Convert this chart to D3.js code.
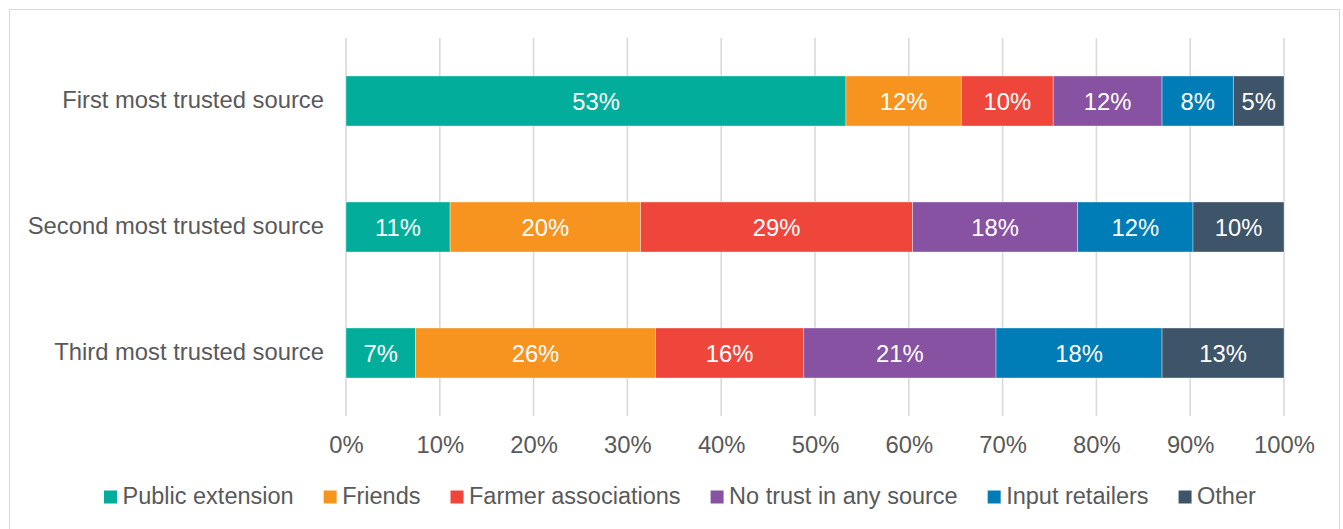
<!DOCTYPE html>
<html>
<head>
<meta charset="utf-8">
<script src="https://cdn.jsdelivr.net/npm/d3@7"></script>
<style>
  html, body { margin: 0; padding: 0; background: #fff; }
  svg { display: block; font-family: "Liberation Sans", Arial, sans-serif; }
</style>
</head>
<body>
<svg id="chart" width="1343" height="529"></svg>
<script>
// Most trusted information sources, share of respondents (%)
const categories = ["First most trusted source", "Second most trusted source", "Third most trusted source"];
const seriesNames = ["Public extension", "Friends", "Farmer associations", "No trust in any source", "Input retailers", "Other"];
const publicExtension = [53.3, 11.1, 7.4];
const friends        = [12.3, 20.3, 25.6];
const farmerAssoc    = [9.8, 29.0, 15.8];
const noTrust        = [11.6, 17.6, 20.5];
const inputRetailers = [7.6, 12.3, 17.7];
const other          = [5.4, 9.7, 13.0];
const tickValues = [0, 10, 20, 30, 40, 50, 60, 70, 80, 90, 100];
const colors = ["#02ae9b", "#f7941f", "#ef463c", "#8652a1", "#007db7", "#3e5468"];

const seriesValues = [publicExtension, friends, farmerAssoc, noTrust, inputRetailers, other];
const rows = categories.map((c, i) => {
  const r = { category: c };
  seriesNames.forEach((s, k) => { r[s] = seriesValues[k][i]; });
  return r;
});

const svg = d3.select("#chart");
const textColor = "#595959";
const fontSize = 23.8;
const legendFontSize = 23.5;

// chart frame
svg.append("rect")
  .attr("x", 9.5).attr("y", 9.5)
  .attr("width", 1330).attr("height", 540)
  .attr("fill", "#fff").attr("stroke", "#d9d9d9").attr("stroke-width", 1);

const x = d3.scaleLinear().domain([0, 100]).range([346, 1284]);
const y = d3.scaleBand().domain(categories).range([38, 416])
  .paddingInner(0.603).paddingOuter(0.3015);

// vertical gridlines
svg.append("g").selectAll("line").data(tickValues).join("line")
  .attr("x1", d => x(d)).attr("x2", d => x(d))
  .attr("y1", 38).attr("y2", 416)
  .attr("stroke", "#d9d9d9").attr("stroke-width", 1.6);

// x axis tick labels
const xAxis = d3.axisBottom(x).tickValues(tickValues).tickSize(0).tickPadding(0)
  .tickFormat(d => d + "%");
const gx = svg.append("g").call(xAxis);
gx.select(".domain").remove();
gx.selectAll("text")
  .attr("y", 453).attr("dy", null)
  .attr("fill", textColor).style("font-size", fontSize + "px")
  .style("font-family", "'Liberation Sans', Arial, sans-serif");

// category labels
const yAxis = d3.axisLeft(y).tickSize(0).tickPadding(0);
const gy = svg.append("g").attr("transform", "translate(324,0)").call(yAxis);
gy.select(".domain").remove();
gy.selectAll("text")
  .attr("x", 0).attr("dy", null).attr("y", 6.5)
  .attr("fill", textColor).attr("text-anchor", "end")
  .style("font-size", fontSize + "px")
  .style("font-family", "'Liberation Sans', Arial, sans-serif");

// stacked bars
const stack = d3.stack().keys(seriesNames);
const layers = stack(rows);

const layerG = svg.append("g").selectAll("g").data(layers).join("g")
  .attr("fill", (d, i) => colors[i]);

layerG.selectAll("rect").data(d => d.map(p => ({ p, key: d.key }))).join("rect")
  .attr("x", d => x(d.p[0]))
  .attr("y", d => y(d.p.data.category))
  .attr("width", d => x(d.p[1]) - x(d.p[0]))
  .attr("height", y.bandwidth())
  .attr("stroke", "#ffffff").attr("stroke-width", 0.8).attr("stroke-opacity", 0.45);

layerG.selectAll("text").data(d => d.map(p => ({ p, key: d.key }))).join("text")
  .attr("x", d => (x(d.p[0]) + x(d.p[1])) / 2)
  .attr("y", d => y(d.p.data.category) + y.bandwidth() / 2 + 8.5)
  .attr("text-anchor", "middle")
  .attr("fill", "#ffffff")
  .style("font-size", fontSize + "px")
  .text(d => Math.round(d.p.data[d.key]) + "%");

// legend
const legend = svg.append("g");
let lx = 104;
seriesNames.forEach((name, i) => {
  const item = legend.append("g");
  item.append("rect")
    .attr("x", lx).attr("y", 490.5).attr("width", 13).attr("height", 13)
    .attr("fill", colors[i]);
  const t = item.append("text")
    .attr("x", lx + 18.5).attr("y", 504)
    .attr("fill", textColor).style("font-size", legendFontSize + "px")
    .text(name);
  lx += 18.5 + t.node().getComputedTextLength() + 30;
});
</script>
</body>
</html>
